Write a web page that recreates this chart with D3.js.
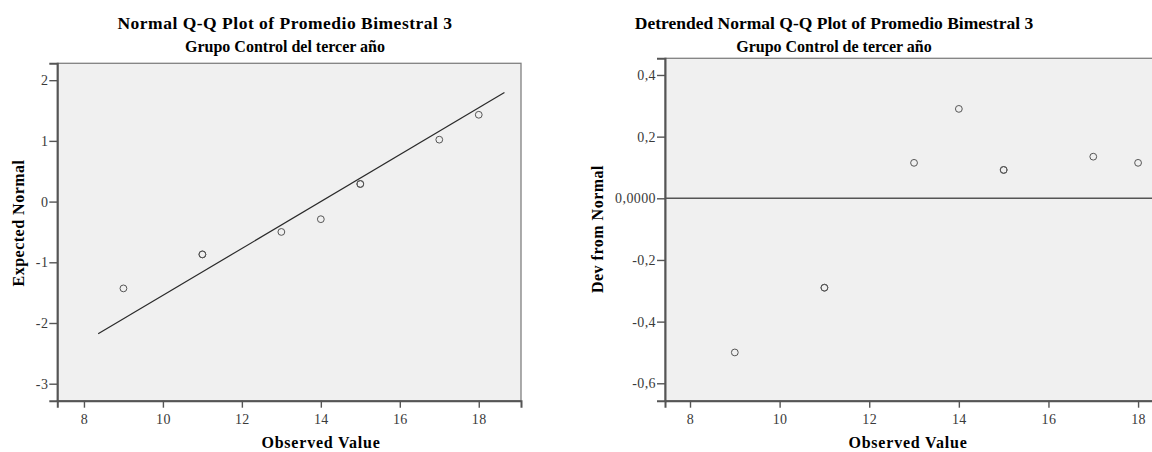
<!DOCTYPE html>
<html>
<head>
<meta charset="utf-8">
<script src="https://cdn.jsdelivr.net/npm/d3@7"></script>
<style>
  html, body { margin: 0; padding: 0; background: #ffffff; }
  svg { display: block; }
  .title { font-family: "Liberation Serif", "Times New Roman", serif; font-weight: bold; fill: #000; }
  .tick text { font-family: "Liberation Serif", "Times New Roman", serif; font-size: 14px; letter-spacing: 0.4px; fill: #3a3a3a; }
</style>
</head>
<body>
<svg id="chart" width="1152" height="452"></svg>
<script>
// Observed scores (tied cases listed once per case)
const observed = [9, 11, 11, 13, 14, 15, 15, 17, 18];
// Expected normal quantiles for each case
const expectedNormal = [-1.43, -0.87, -0.87, -0.50, -0.29, 0.29, 0.29, 1.02, 1.43];
// Deviation from the normal line for each case
const devFromNormal = [-0.50, -0.29, -0.29, 0.115, 0.29, 0.092, 0.092, 0.135, 0.115];

// Reference line: expected = (x - lineMean) / lineSd over lineRange
const lineMean = 14.0;
const lineSd = 2.59;
const lineRange = [8.36, 18.65];

// Axis ticks and labels
const xTicks = [8, 10, 12, 14, 16, 18];
const qqYTicks = [-3, -2, -1, 0, 1, 2];
const devYTicks = [-0.6, -0.4, -0.2, 0, 0.2, 0.4];
const devYTickLabels = ["-0,6", "-0,4", "-0,2", "0,0000", "0,2", "0,4"];

const svg = d3.select("#chart");

function panel(cfg) {
  const g = svg.append("g");
  const x = d3.scaleLinear().domain(cfg.xDomain).range([cfg.left, cfg.right]);
  const y = d3.scaleLinear().domain(cfg.yDomain).range([cfg.bottom, cfg.top]);

  // plot background and frame
  g.append("rect")
    .attr("x", cfg.left).attr("y", cfg.top)
    .attr("width", cfg.right - cfg.left).attr("height", cfg.bottom - cfg.top)
    .attr("fill", "#f0f0f0").attr("stroke", "#808080").attr("stroke-width", 1.3);

  // axes
  const xAxis = d3.axisBottom(x).tickValues(xTicks).tickSize(7).tickPadding(6)
    .tickFormat(d3.format("d"));
  const gx = g.append("g").attr("transform", `translate(0,${cfg.bottom})`).call(xAxis);
  const yAxis = d3.axisLeft(y).tickValues(cfg.yTicks).tickSize(8).tickPadding(1)
    .tickFormat((d, i) => cfg.yTickLabels[i]);
  const gy = g.append("g").attr("transform", `translate(${cfg.left},0)`).call(yAxis);
  [gx, gy].forEach(a => {
    a.select(".domain").attr("stroke", "#555").attr("stroke-width", 2);
    a.selectAll(".tick line").attr("stroke", "#555").attr("stroke-width", 1.4);
  });

  // titles
  g.append("text").attr("class", "title")
    .attr("x", cfg.titleX).attr("y", 29).attr("text-anchor", "middle")
    .attr("font-size", 17.5).attr("letter-spacing", cfg.titleSpacing).text(cfg.title);
  g.append("text").attr("class", "title")
    .attr("x", cfg.titleX).attr("y", 52).attr("text-anchor", "middle")
    .attr("font-size", 16).text(cfg.subtitle);
  g.append("text").attr("class", "title")
    .attr("x", cfg.xLabelX).attr("y", 448).attr("text-anchor", "middle")
    .attr("font-size", 16).attr("letter-spacing", 0.8).text("Observed Value");
  g.append("text").attr("class", "title")
    .attr("transform", `translate(${cfg.yLabelX},${cfg.yLabelY}) rotate(-90)`)
    .attr("text-anchor", "middle").attr("font-size", 16).attr("letter-spacing", 0.5)
    .text(cfg.yLabel);

  return { g, x, y };
}

// Normal Q-Q plot
const qq = panel({
  left: 57.3, right: 521, top: 63.3, bottom: 400.7,
  xDomain: [7.325, 19.07], yDomain: [-3.28, 2.278],
  yTicks: qqYTicks, yTickLabels: qqYTicks.map(String),
  title: "Normal Q-Q Plot of Promedio Bimestral 3", titleSpacing: 0.5,
  subtitle: "Grupo Control del tercer año",
  titleX: 285, xLabelX: 321, yLabel: "Expected Normal", yLabelX: 24, yLabelY: 223
});
qq.g.append("line")
  .attr("x1", qq.x(lineRange[0])).attr("y1", qq.y((lineRange[0] - lineMean) / lineSd))
  .attr("x2", qq.x(lineRange[1])).attr("y2", qq.y((lineRange[1] - lineMean) / lineSd))
  .attr("stroke", "#2a2a2a").attr("stroke-width", 1.2);
qq.g.selectAll("circle.pt").data(observed).join("circle").attr("class", "pt")
  .attr("cx", d => qq.x(d)).attr("cy", (d, i) => qq.y(expectedNormal[i]))
  .attr("r", 3.4).attr("fill", "none").attr("stroke", "#555").attr("stroke-width", 1);

// Detrended normal Q-Q plot
const dt = panel({
  left: 665, right: 1156, top: 58.3, bottom: 400.7,
  xDomain: [7.442, 18.4], yDomain: [-0.6565, 0.4541],
  yTicks: devYTicks, yTickLabels: devYTickLabels,
  title: "Detrended Normal Q-Q Plot of Promedio Bimestral 3", titleSpacing: 0,
  subtitle: "Grupo Control de tercer año",
  titleX: 834, xLabelX: 908, yLabel: "Dev from Normal", yLabelX: 603, yLabelY: 229
});
dt.g.append("line")
  .attr("x1", 665).attr("x2", 1152)
  .attr("y1", dt.y(0)).attr("y2", dt.y(0))
  .attr("stroke", "#555").attr("stroke-width", 1.6);
dt.g.selectAll("circle.pt").data(observed).join("circle").attr("class", "pt")
  .attr("cx", d => dt.x(d)).attr("cy", (d, i) => dt.y(devFromNormal[i]))
  .attr("r", 3.4).attr("fill", "none").attr("stroke", "#555").attr("stroke-width", 1);
</script>
</body>
</html>
